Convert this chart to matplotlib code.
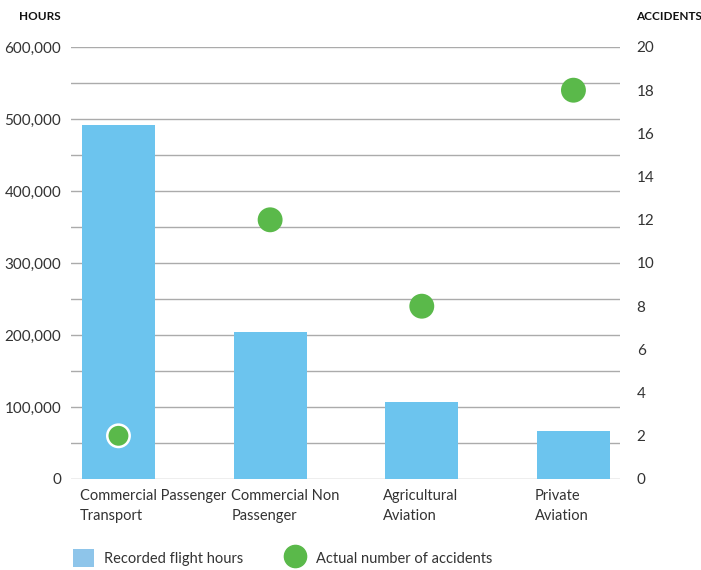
import matplotlib
matplotlib.use("Agg")
import matplotlib.pyplot as plt
from matplotlib.lines import Line2D
from matplotlib.patches import Patch

categories = ["Commercial Passenger\nTransport", "Commercial Non\nPassenger",
              "Agricultural\nAviation", "Private\nAviation"]
flight_hours = [492000, 204000, 107000, 67000]
accidents = [2, 12, 8, 18]
left_ticks = [0, 100000, 200000, 300000, 400000, 500000, 600000]
right_ticks = [0, 2, 4, 6, 8, 10, 12, 14, 16, 18, 20]

BLUE = "#6cc4ee"
GREEN = "#5ab94a"
GRID = "#ababab"
TXT = "#333333"

plt.rcParams['font.family'] = ['Lato', 'DejaVu Sans']

fig = plt.figure(figsize=(7.01, 5.70), dpi=100)
ax = fig.add_axes([71/701, 1-479/570, (620-71)/701, (479-47)/570])
x = list(range(len(categories)))

for g in range(0, 600001, 50000):
    ax.axhline(g, color=GRID, lw=1.0, zorder=0)
ax.bar(x, flight_hours, width=0.48, color=BLUE, zorder=2)
ax.set_ylim(0, 600000)
ax.set_xlim(-0.313, 3.307)
ax.set_yticks(left_ticks)
ax.set_yticklabels([f"{v:,}" for v in left_ticks], fontsize=11, color=TXT)
ax.tick_params(axis='y', length=0, pad=7)
ax.set_xticks([])
for s in ax.spines.values():
    s.set_visible(False)

for xi, lab in zip(x, categories):
    ax.text(xi - 0.255, -14000, lab, ha='left', va='top', fontsize=10.5,
            color=TXT, linespacing=1.5)

ax2 = ax.twinx()
ax2.set_ylim(0, 20)
ax2.set_yticks(right_ticks)
ax2.set_yticklabels([str(v) for v in right_ticks], fontsize=11, color=TXT)
ax2.tick_params(axis='y', length=0, pad=12)
for s in ax2.spines.values():
    s.set_visible(False)
edges = ['white', GREEN, GREEN, GREEN]
ax2.scatter(x, accidents, s=260, color=GREEN, edgecolors=edges, linewidths=1.8, zorder=5)

fig.text(61/701, 1-16/570, "HOURS", ha='right', va='center', fontsize=8.5,
         fontweight='bold', color='#111111')
fig.text(636/701, 1-16/570, "ACCIDENTS", ha='left', va='center', fontsize=8.5,
         fontweight='bold', color='#111111')

handles = [Patch(facecolor="#8ec5ea", edgecolor='none'),
           Line2D([], [], marker='o', color='none', markerfacecolor=GREEN,
                  markeredgecolor=GREEN, markersize=16)]
fig.legend(handles, ["Recorded flight hours", "Actual number of accidents"],
           loc='center left', bbox_to_anchor=(60/701, 1-558/570), ncol=2,
           frameon=False, fontsize=10.5, handlelength=1.4, handleheight=1.6,
           columnspacing=2.9, handletextpad=0.7, labelcolor=TXT)

fig.savefig("out.png", dpi=100, facecolor='white')
